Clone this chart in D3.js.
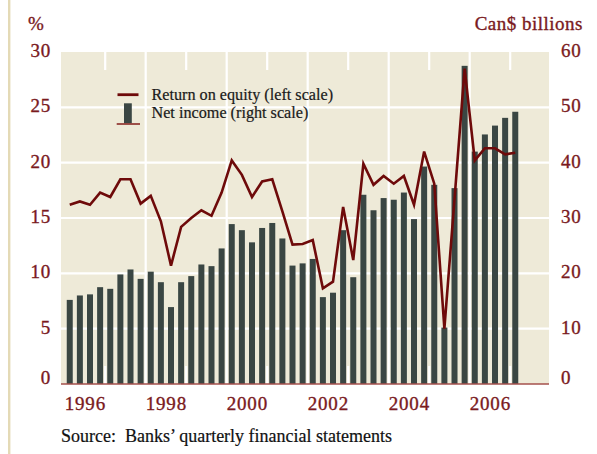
<!DOCTYPE html>
<html>
<head>
<meta charset="utf-8">
<script src="https://cdn.jsdelivr.net/npm/d3@7"></script>
<style>
  html, body { margin: 0; padding: 0; background: #ffffff; }
  svg { display: block; }
</style>
</head>
<body>
<svg id="chart" width="597" height="454"></svg>
<script>
// ---- Data (quarterly, 1996Q1 - 2007Q1) ----
const quarters = [
  "1996Q1","1996Q2","1996Q3","1996Q4",
  "1997Q1","1997Q2","1997Q3","1997Q4",
  "1998Q1","1998Q2","1998Q3","1998Q4",
  "1999Q1","1999Q2","1999Q3","1999Q4",
  "2000Q1","2000Q2","2000Q3","2000Q4",
  "2001Q1","2001Q2","2001Q3","2001Q4",
  "2002Q1","2002Q2","2002Q3","2002Q4",
  "2003Q1","2003Q2","2003Q3","2003Q4",
  "2004Q1","2004Q2","2004Q3","2004Q4",
  "2005Q1","2005Q2","2005Q3","2005Q4",
  "2006Q1","2006Q2","2006Q3","2006Q4",
  "2007Q1"
];
// Return on equity, % (left scale)
const returnOnEquity = [
  16.2, 16.5, 16.2, 17.3, 16.9, 18.5, 18.5, 16.3, 17.0, 14.7,
  10.7, 14.2, 15.0, 15.7, 15.2, 17.3, 20.2, 18.9, 16.9, 18.3,
  18.5, 15.6, 12.6, 12.65, 13.0, 8.65, 9.25, 16.0, 11.2, 19.9,
  18.0, 18.8, 18.1, 18.8, 16.2, 21.0, 18.1, 5.0, 16.7, 28.5,
  20.2, 21.3, 21.3, 20.75, 20.9
];
// Net income, Can$ billions (right scale)
const netIncome = [
  15.2, 16.0, 16.2, 17.5, 17.2, 19.8, 20.7, 19.0, 20.3, 18.4,
  13.9, 18.4, 19.5, 21.6, 21.3, 24.5, 28.9, 27.8, 25.6, 28.2,
  29.1, 26.3, 21.4, 21.8, 22.6, 15.7, 16.5, 27.8, 19.3, 34.2,
  31.4, 33.6, 33.3, 34.6, 29.8, 39.3, 36.0, 10.2, 35.4, 57.5,
  42.0, 45.1, 46.7, 48.1, 49.2
];
const leftTicks = [0, 5, 10, 15, 20, 25, 30];
const rightTicks = [0, 10, 20, 30, 40, 50, 60];
const yearLabels = [1996, 1998, 2000, 2002, 2004, 2006];
const fullGridYears = [1998, 2000, 2002, 2004, 2006];
const shortTickYears = [1997, 1999, 2001, 2003, 2005, 2007];
const legendItems = ["Return on equity (left scale)", "Net income (right scale)"];
const sourceText = "Source:\u00a0\u00a0Banks\u2019 quarterly financial statements";

// ---- Styles ----
const RED = "#6e0a0a";
const LABEL = "#7a1a1e";
const BAR = "#3a4643";
const BG = "#eeead8";
const SERIF = "'Liberation Serif', 'Times New Roman', serif";

const svg = d3.select("#chart");
const W = 597, H = 454;
const plot = { left: 61, right: 549, top: 52, bottom: 384 };

// time of a quarter centre
const qTime = s => +s.slice(0, 4) + (+s.slice(5) - 0.5) / 4;

const x = d3.scaleLinear().domain([1995.909, 2007.958]).range([plot.left, plot.right]);
const yL = d3.scaleLinear().domain([0, 30]).range([plot.bottom, plot.top]);
const yR = d3.scaleLinear().domain([0, 60]).range([plot.bottom, plot.top]);

// left decorative rule
svg.append("rect").attr("x", 8).attr("y", 0).attr("width", 2.4).attr("height", H).attr("fill", "#e4dab6");

// plot background
svg.append("rect")
  .attr("x", plot.left).attr("y", plot.top)
  .attr("width", plot.right - plot.left).attr("height", plot.bottom - plot.top)
  .attr("fill", BG);

// horizontal gridlines
svg.append("g").selectAll("line").data(leftTicks.filter(d => d > 0 && d < 30)).join("line")
  .attr("x1", plot.left).attr("x2", plot.right)
  .attr("y1", d => yL(d)).attr("y2", d => yL(d))
  .attr("stroke", "#ffffff").attr("stroke-width", 2.2);

// vertical gridlines (even years)
svg.append("g").selectAll("line").data(fullGridYears).join("line")
  .attr("x1", d => x(d)).attr("x2", d => x(d))
  .attr("y1", plot.top).attr("y2", plot.bottom)
  .attr("stroke", "#ffffff").attr("stroke-width", 2.2);

// short ticks (odd years) top and bottom
const st = svg.append("g");
st.selectAll("line.top").data(shortTickYears).join("line").attr("class", "top")
  .attr("x1", d => x(d)).attr("x2", d => x(d))
  .attr("y1", plot.top).attr("y2", plot.top + 18)
  .attr("stroke", "#ffffff").attr("stroke-width", 2.2);
st.selectAll("line.bot").data(shortTickYears).join("line").attr("class", "bot")
  .attr("x1", d => x(d)).attr("x2", d => x(d))
  .attr("y1", plot.bottom - 18).attr("y2", plot.bottom)
  .attr("stroke", "#ffffff").attr("stroke-width", 2.2);

// bars
const barW = 6;
svg.append("g").selectAll("rect").data(netIncome).join("rect")
  .attr("x", (d, i) => x(qTime(quarters[i])) - barW / 2)
  .attr("y", d => yR(d))
  .attr("width", barW)
  .attr("height", d => yR(0) - yR(d))
  .attr("fill", BAR);

// zero line
svg.append("line")
  .attr("x1", plot.left).attr("x2", plot.right)
  .attr("y1", yL(0)).attr("y2", yL(0))
  .attr("stroke", "#a4504c").attr("stroke-width", 1.6);

// ROE line
const line = d3.line()
  .x((d, i) => x(qTime(quarters[i])))
  .y(d => yL(d));
svg.append("path").datum(returnOnEquity)
  .attr("d", line)
  .attr("fill", "none").attr("stroke", RED)
  .attr("stroke-width", 2.6).attr("stroke-linejoin", "miter").attr("stroke-miterlimit", 4);

// helper for red labels
const redText = sel => sel
  .attr("font-family", SERIF).attr("font-size", 19)
  .attr("fill", LABEL).attr("stroke", LABEL).attr("stroke-width", 0.35);

// left axis labels
svg.append("g").selectAll("text").data(leftTicks).join("text")
  .attr("x", 51).attr("y", d => d === 0 ? yL(d) - 0.5 : yL(d) + 5)
  .attr("text-anchor", "end").attr("letter-spacing", 0.8)
  .call(redText).text(d => d);

// right axis labels
svg.append("g").selectAll("text").data(rightTicks).join("text")
  .attr("x", 561).attr("y", d => d === 0 ? yR(d) - 0.5 : yR(d) + 5)
  .attr("text-anchor", "start").attr("letter-spacing", 0.8)
  .call(redText).text(d => d);

// units
svg.append("text").attr("x", 28).attr("y", 30)
  .call(redText).text("%");
svg.append("text").attr("x", 583).attr("y", 30).attr("text-anchor", "end")
  .attr("letter-spacing", 0.5)
  .call(redText).text("Can$ billions");

// year labels
svg.append("g").selectAll("text").data(yearLabels).join("text")
  .attr("x", d => x(d + 0.5) + 0.4).attr("y", 410)
  .attr("text-anchor", "middle").attr("letter-spacing", 0.8)
  .call(redText).text(d => d);

// legend
const lg = svg.append("g");
lg.append("line").attr("x1", 117.5).attr("x2", 138.5).attr("y1", 94.7).attr("y2", 94.7)
  .attr("stroke", RED).attr("stroke-width", 2.8);
lg.append("rect").attr("x", 124).attr("y", 103.3).attr("width", 7.8).attr("height", 20)
  .attr("fill", BAR);
lg.append("line").attr("x1", 116.7).attr("x2", 140).attr("y1", 124).attr("y2", 124)
  .attr("stroke", "#8a2a26").attr("stroke-width", 1.6);
lg.selectAll("text").data(legendItems).join("text")
  .attr("x", 151.5).attr("y", (d, i) => 99.5 + i * 18.5)
  .attr("font-family", SERIF).attr("font-size", 16.2).attr("fill", "#1a1a1a")
  .attr("stroke", "#1a1a1a").attr("stroke-width", 0.2)
  .text(d => d);

// source
svg.append("text").attr("x", 61).attr("y", 442)
  .attr("font-family", SERIF).attr("font-size", 18).attr("fill", "#111111")
  .attr("stroke", "#111111").attr("stroke-width", 0.2)
  .text(sourceText);
</script>
</body>
</html>
